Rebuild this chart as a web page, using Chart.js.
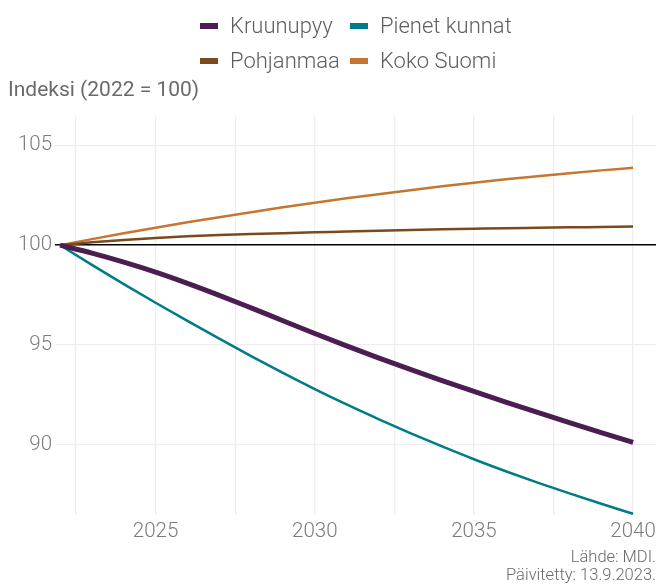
<!DOCTYPE html>
<html lang="fi">
<head>
  <meta charset="UTF-8" />
  <title>Väestöennuste, indeksi</title>
  <script src="https://cdn.jsdelivr.net/npm/chart.js"></script>
  <style>
    html, body {
      margin: 0;
      padding: 0;
      background: #ffffff;
    }
    #wrap {
      position: relative;
      width: 656px;
      height: 585px;
    }
    #legend {
      position: absolute;
      left: 200px;
      top: 8px;
      display: grid;
      grid-template-columns: 150px auto;
      font-family: Roboto, sans-serif;
      font-weight: 300;
      font-size: 22px;
      color: #5e5e5e;
    }
    .item {
      display: flex;
      align-items: center;
      height: 35px;
    }
    .swatch {
      width: 18px;
      height: 6px;
      margin-right: 12px;
    }
  </style>
</head>
<body>
  <div id="wrap">
    <canvas id="chart" width="656" height="585"></canvas>
    <div id="legend"></div>
  </div>

  <script>
    // Data (index, 2022 = 100)
    const years = [2022, 2023, 2024, 2025, 2026, 2027, 2028, 2029, 2030, 2031,
                   2032, 2033, 2034, 2035, 2036, 2037, 2038, 2039, 2040];
    const kruunupyy = [100, 99.6, 99.15, 98.65, 98.09, 97.49, 96.86, 96.22, 95.58, 94.96,
                       94.36, 93.78, 93.22, 92.68, 92.15, 91.63, 91.12, 90.62, 90.13];
    const pienetKunnat = [100, 99.01, 98.05, 97.12, 96.21, 95.32, 94.45, 93.61, 92.8, 92.03,
                          91.3, 90.6, 89.93, 89.29, 88.69, 88.12, 87.58, 87.06, 86.56];
    const pohjanmaa = [100, 100.14, 100.26, 100.36, 100.44, 100.51, 100.56, 100.6, 100.64, 100.68,
                       100.72, 100.76, 100.79, 100.82, 100.85, 100.87, 100.89, 100.91, 100.93];
    const kokoSuomi = [100, 100.3, 100.59, 100.87, 101.14, 101.4, 101.65, 101.89, 102.12, 102.34,
                       102.55, 102.75, 102.94, 103.12, 103.29, 103.45, 103.6, 103.74, 103.87];

    const seriesNames = ['Kruunupyy', 'Pienet kunnat', 'Pohjanmaa', 'Koko Suomi'];
    const xTickYears = [2025, 2030, 2035, 2040];
    const yTickValues = [90, 95, 100, 105];

    const colors = ['#4b1d50', '#007b88', '#7b4a1c', '#c57630'];
    const widths = [5, 2.5, 2.5, 2.5];
    const seriesValues = [kruunupyy, pienetKunnat, pohjanmaa, kokoSuomi];

    // HTML legend in two columns, like the original
    const legendEl = document.getElementById('legend');
    seriesNames.forEach((name, i) => {
      const item = document.createElement('div');
      item.className = 'item';
      item.innerHTML = '<span class="swatch" style="background:' + colors[i] + '"></span>' + name;
      legendEl.appendChild(item);
    });

    const gridColor = '#eeeeee';
    const tickFont = { family: 'Roboto', weight: '300', size: 20.5 };

    const datasets = seriesNames.map((name, i) => ({
      label: name,
      data: years.map((y, j) => ({ x: y, y: seriesValues[i][j] })),
      borderColor: colors[i],
      backgroundColor: colors[i],
      borderWidth: widths[i],
      pointRadius: 0,
      cubicInterpolationMode: 'monotone',
      borderCapStyle: 'butt',
      order: i
    }));

    new Chart(document.getElementById('chart'), {
      type: 'line',
      data: { datasets: datasets },
      options: {
        responsive: false,
        animation: false,
        layout: { padding: { top: 76, left: 8, right: 0, bottom: 0 } },
        plugins: {
          legend: { display: false },
          tooltip: { enabled: false },
          title: {
            display: true,
            text: 'Indeksi (2022 = 100)',
            align: 'start',
            color: '#6a6a6a',
            font: { family: 'Roboto', weight: '400', size: 21, lineHeight: 1.2 },
            padding: { top: 2, bottom: 12 }
          },
          subtitle: {
            display: true,
            position: 'bottom',
            align: 'end',
            text: ['Lähde: MDI.', 'Päivitetty: 13.9.2023.'],
            color: '#6a6a6a',
            font: { family: 'Roboto', weight: '300', size: 16.5, lineHeight: 1.1 },
            padding: 0
          }
        },
        scales: {
          x: {
            type: 'linear',
            min: 2021.84,
            max: 2040.72,
            afterBuildTicks: (scale) => {
              const t = [];
              for (let v = xTickYears[0] - 2.5; v <= xTickYears[xTickYears.length - 1]; v += 2.5) {
                t.push({ value: v });
              }
              scale.ticks = t;
            },
            afterFit: (scale) => {
              scale.height = 33.7;
              scale.paddingLeft = 0;
              scale.paddingRight = 0;
            },
            border: { display: false },
            grid: { color: gridColor, lineWidth: 1.3, drawTicks: false },
            ticks: {
              padding: 4.5,
              color: '#7c7c7c',
              font: tickFont,
              maxRotation: 0,
              autoSkip: false,
              callback: (v) => xTickYears.includes(v) ? String(v) : ''
            }
          },
          y: {
            min: 86.5,
            max: 106.5,
            afterBuildTicks: (scale) => {
              scale.ticks = yTickValues.map(v => ({ value: v }));
            },
            afterFit: (scale) => {
              scale.width = 47;
              scale.paddingTop = 0;
              scale.paddingBottom = 0;
            },
            border: { display: false },
            grid: {
              drawTicks: false,
              color: (ctx) => ctx.tick && ctx.tick.value === 100 ? '#000000' : gridColor,
              lineWidth: (ctx) => ctx.tick && ctx.tick.value === 100 ? 1.4 : 1.3
            },
            ticks: {
              padding: 3,
              color: '#7c7c7c',
              font: tickFont
            }
          }
        }
      }
    });
  </script>
</body>
</html>
